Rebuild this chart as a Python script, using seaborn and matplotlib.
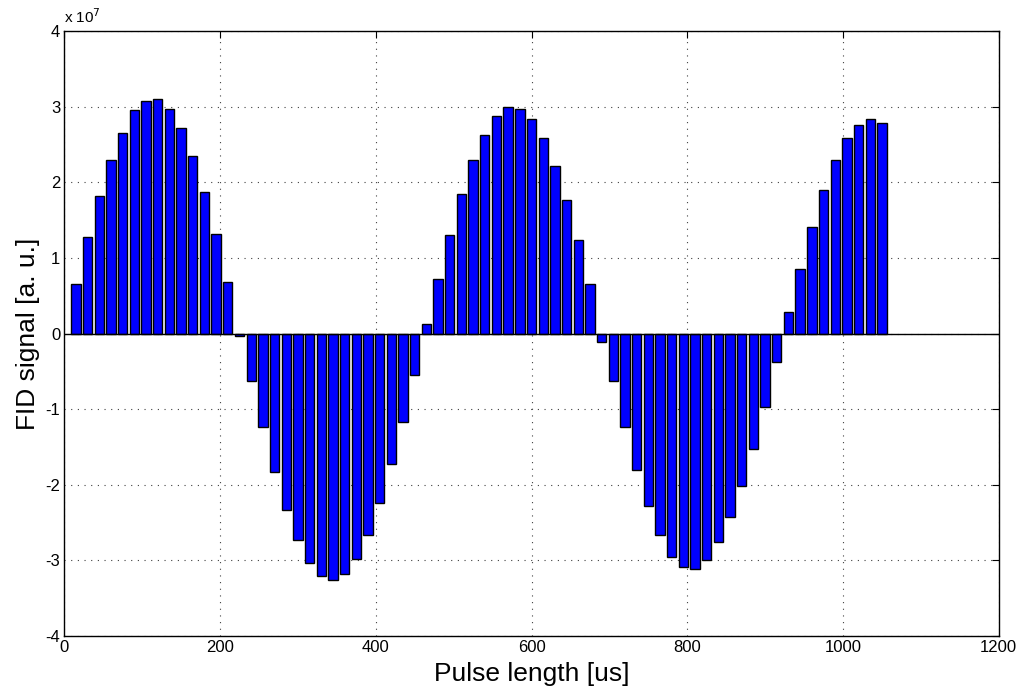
#!/usr/bin/env python3

import matplotlib
matplotlib.use("Agg")
import matplotlib.pyplot as plt
import seaborn as sns
import pandas

# Pulse lengths in us, one bar every 15 us
pulse_length = list(range(15, 1051, 15))

# FID signal in units of 1e7
fid_signal = [
    0.65, 1.27, 1.82, 2.29, 2.65, 2.95, 3.08, 3.10, 2.97, 2.72, 2.35, 1.87, 1.32, 0.68, -0.03,
    -0.63, -1.24, -1.83, -2.33, -2.73, -3.03, -3.21, -3.26, -3.18, -2.98, -2.66, -2.24, -1.73, -1.17, -0.55,
    0.12, 0.72, 1.30, 1.84, 2.29, 2.63, 2.87, 2.99, 2.97, 2.83, 2.58, 2.22, 1.77, 1.24, 0.66,
    -0.11, -0.63, -1.23, -1.80, -2.28, -2.66, -2.95, -3.09, -3.12, -3.00, -2.76, -2.43, -2.01, -1.53, -0.97, -0.38,
    0.29, 0.85, 1.41, 1.90, 2.30, 2.58, 2.76, 2.83, 2.78,
]
scale = 1e7

x_ticks = [0, 200, 400, 600, 800, 1000, 1200]
y_ticks = [-4, -3, -2, -1, 0, 1, 2, 3, 4]

sns.set_style("white")
plt.rcParams["font.family"] = ["Liberation Sans", "DejaVu Sans"]
plt.rcParams["text.color"] = "black"
plt.rcParams["axes.labelcolor"] = "black"

df = pandas.DataFrame({
    "pulse": pulse_length,
    "signal": [v * scale for v in fid_signal],
})

fig = plt.figure(figsize=(10.19, 6.97), dpi=100)
ax = fig.add_axes([0.0631, 0.0875, 0.9170, 0.8680])

sns.barplot(data=df, x="pulse", y="signal", native_scale=True, color="#0000ff",
            saturation=1, edgecolor="black", linewidth=1, width=0.8, ax=ax, zorder=3)

# bar baseline
ax.axhline(0, color="black", linewidth=1, zorder=4)

ax.set_xlim(0, 1200)
ax.set_ylim(-4 * scale, 4 * scale)
ax.set_xticks(x_ticks)
ax.set_xticklabels([str(t) for t in x_ticks])
ax.set_yticks([t * scale for t in y_ticks])
ax.set_yticklabels([str(t) for t in y_ticks])
ax.tick_params(direction="in", top=True, right=True, length=5, width=0.8,
               labelsize=12, colors="black", pad=3)

ax.grid(True, color="0.25", linestyle=(0, (1, 5)), linewidth=0.8, zorder=0)
ax.set_axisbelow(True)
for side in ax.spines.values():
    side.set_visible(True)
    side.set_color("black")
    side.set_linewidth(1)

ax.set_xlabel("Pulse length [us]", fontsize=19, labelpad=5, color="black")
ax.set_ylabel("FID signal [a. u.]", fontsize=19, labelpad=4, color="black")
ax.text(0.0, 1.008, "x 10$^{7}$", transform=ax.transAxes, fontsize=11,
        ha="left", va="bottom", color="black")

fig.savefig("out.png", dpi=100)
